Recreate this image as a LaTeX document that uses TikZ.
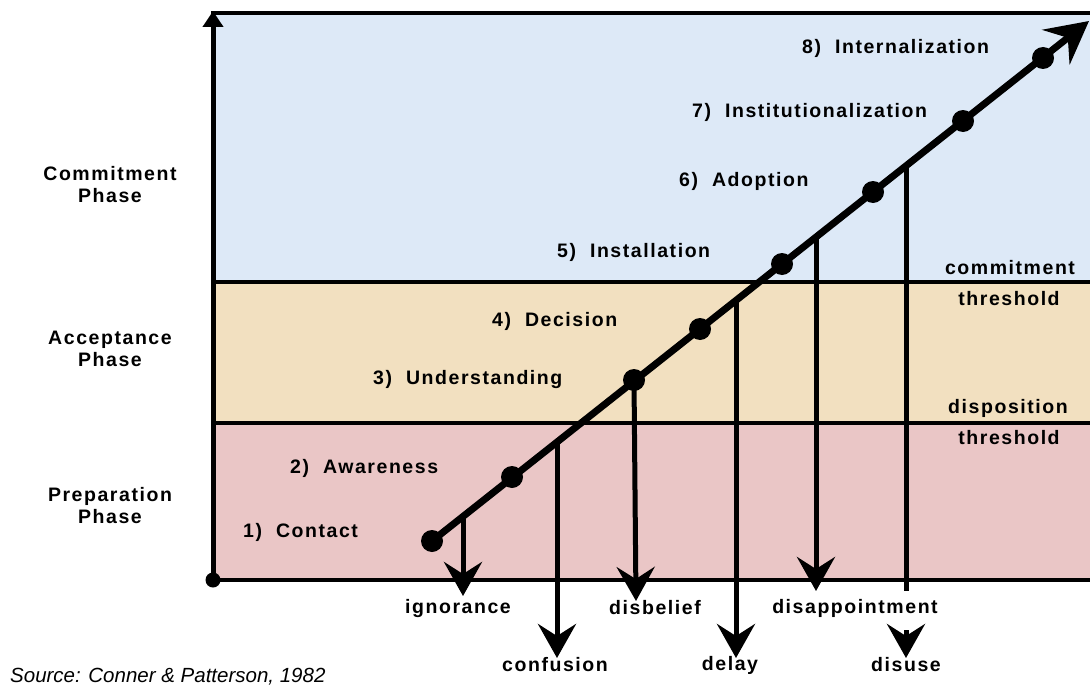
\documentclass[tikz,border=0pt]{standalone}
\usepackage{fontspec}
\setmainfont{Liberation Sans}
\newfontfamily\lblfont[LetterSpace=8]{Liberation Sans}
\usetikzlibrary{arrows.meta,positioning}
\definecolor{commitblue}{RGB}{221,233,247}
\definecolor{accepttan}{RGB}{242,224,192}
\definecolor{preppink}{RGB}{234,198,198}
\tikzset{
  lbl/.style={font=\lblfont\bfseries\fontsize{19.5}{22}\selectfont, inner sep=0pt, align=center},
  stage/.style={lbl, anchor=west},
  dot/.style={circle, fill=black, minimum size=22pt, inner sep=0pt},
  drop/.style={line width=5pt, -{Stealth[length=34pt,width=38pt,inset=12pt]}},
}
\begin{document}
\begin{tikzpicture}[x=1pt,y=-1pt]
\useasboundingbox (0,0) rectangle (1090,685);
% phase bands
\fill[commitblue] (213,13) rectangle (1090,282);
\fill[accepttan] (213,282) rectangle (1090,423);
\fill[preppink] (213,423) rectangle (1090,580);
\draw[line width=3.5pt] (213,282) -- (1090,282);
\draw[line width=3.5pt] (213,423) -- (1090,423);
\draw[line width=3.5pt] (211,13) -- (1090,13);
\draw[line width=3.5pt] (211,580) -- (1090,580);
% axis
\node (o) [circle, fill=black, minimum size=15pt, inner sep=0pt] at (213,580) {};
\coordinate (ytop) at (213,11);
\draw[line width=5pt, -{Triangle[length=16pt,width=20pt]}] (o.center) -- (ytop);
% phase names
\node (cp) [lbl] at (110,185) {Commitment\\Phase};
\node (ap) [lbl] at (110,349) {Acceptance\\Phase};
\node (pp) [lbl] at (110,506) {Preparation\\Phase};
% stages on the line
\node (d1) [dot] at (432,541) {};
\node (d2) [dot] at (512,477) {};
\node (d3) [dot] at (634,380) {};
\node (d4) [dot] at (700,329) {};
\node (d5) [dot] at (782,264) {};
\node (d6) [dot] at (873,192) {};
\node (d7) [dot] at (963,121) {};
\node (d8) [dot] at (1043,58) {};
\coordinate (tip) at (1089,21);
\draw[line width=7pt, -{Stealth[length=42pt,width=44pt,inset=15pt]}] (d1.center) -- (tip);
\node (s1) [stage] at (243,532) {1)\ \ Contact};
\node (s2) [stage] at (290,468) {2)\ \ Awareness};
\node (s3) [stage] at (373,379) {3)\ \ Understanding};
\node (s4) [stage] at (492,321) {4)\ \ Decision};
\node (s5) [stage] at (557,252) {5)\ \ Installation};
\node (s6) [stage] at (679,181) {6)\ \ Adoption};
\node (s7) [stage] at (692,112) {7)\ \ Institutionalization};
\node (s8) [stage] at (802,48) {8)\ \ Internalization};
% thresholds
\node (ct1) [lbl] at (1010,268) {commitment};
\node (ct2) [lbl] at (1009,299) {threshold};
\node (dt1) [lbl] at (1008,408) {disposition};
\node (dt2) [lbl] at (1009,438) {threshold};
% drop-outs
\coordinate (b1) at (463,516);
\coordinate (b2) at (557,442);
\coordinate (b4) at (736,301);
\coordinate (b5) at (816,237);
\coordinate (b6) at (906,166);
\coordinate (e1) at (463,596);
\coordinate (e2) at (557,658);
\coordinate (e3) at (636,601);
\coordinate (e4) at (736,658);
\coordinate (e5) at (816,591);
\coordinate (e6) at (906,591);
\coordinate (f6) at (906,630);
\coordinate (g6) at (906,658);
\node (ign) [lbl] at (458,608) {ignorance};
\node (con) [lbl] at (555,665) {confusion};
\node (dib) [lbl] at (655,608) {disbelief};
\node (del) [lbl] at (730,665) {delay};
\node (dap) [lbl] at (855,608) {disappointment};
\node (dus) [lbl] at (906,665) {disuse};
\draw[drop] (b1) -- (e1);
\draw[drop] (b2) -- (e2);
\draw[drop] (d3.center) -- (e3);
\draw[drop] (b4) -- (e4);
\draw[drop] (b5) -- (e5);
\draw[line width=5pt] (b6) -- (e6);
\draw[drop] (f6) -- (g6);
% source
\node (src) [font=\itshape\fontsize{20.5}{24}\selectfont, inner sep=0pt, anchor=west] at (10,677) {Source: Conner \& Patterson, 1982};
\end{tikzpicture}
\end{document}
